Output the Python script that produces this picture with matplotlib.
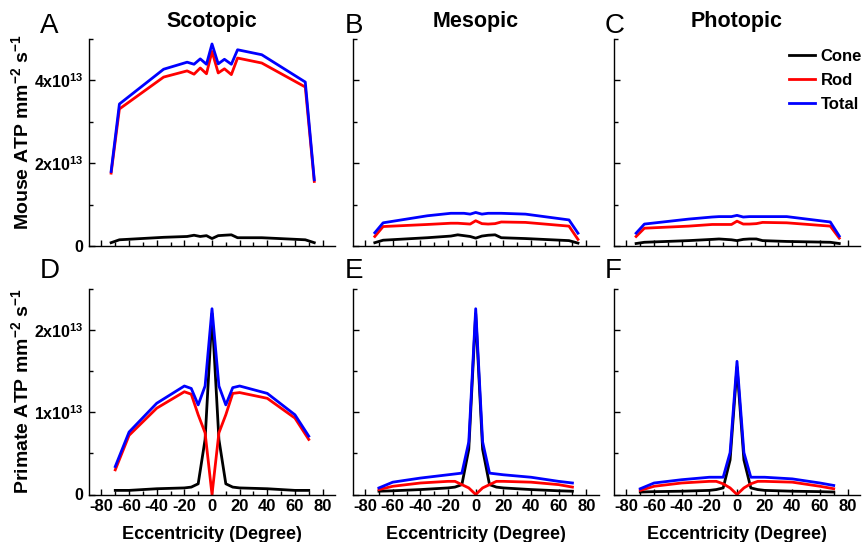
import matplotlib
matplotlib.use("Agg")
import matplotlib.pyplot as plt
from matplotlib.ticker import MultipleLocator, FuncFormatter

plt.rcParams['font.family'] = ['Liberation Sans', 'DejaVu Sans']
plt.rcParams['mathtext.default'] = 'regular'
plt.rcParams['axes.unicode_minus'] = False

# eccentricity (degree)
x_mouse = [-73, -67, -35, -18, -13, -8.5, -4, 0, 4.5, 9, 14, 18.5, 36, 67.5, 74]
x_primate = [-70, -60, -40, -20, -15, -10, -5, 0, 5, 10, 15, 20, 40, 60, 70]

# ATP values in units of 1e13 mm^-2 s^-1
# A - mouse, scotopic
cone_a = [0.08, 0.15, 0.21, 0.23, 0.26, 0.23, 0.25, 0.18, 0.25, 0.26, 0.27, 0.20, 0.20, 0.15, 0.08]
rod_a = [1.76, 3.31, 4.08, 4.23, 4.15, 4.30, 4.16, 4.70, 4.18, 4.28, 4.14, 4.54, 4.42, 3.84, 1.56]
total_a = [1.80, 3.43, 4.27, 4.44, 4.39, 4.52, 4.39, 4.88, 4.40, 4.51, 4.39, 4.74, 4.62, 3.96, 1.60]
# B - mouse, mesopic
cone_b = [0.08, 0.14, 0.20, 0.24, 0.27, 0.25, 0.23, 0.19, 0.24, 0.26, 0.27, 0.20, 0.18, 0.13, 0.07]
rod_b = [0.23, 0.47, 0.52, 0.55, 0.55, 0.54, 0.53, 0.61, 0.54, 0.53, 0.54, 0.58, 0.57, 0.48, 0.16]
total_b = [0.32, 0.56, 0.73, 0.79, 0.79, 0.79, 0.77, 0.81, 0.77, 0.79, 0.79, 0.79, 0.77, 0.63, 0.31]
# C - mouse, photopic
cone_c = [0.06, 0.09, 0.13, 0.16, 0.17, 0.16, 0.15, 0.13, 0.16, 0.17, 0.17, 0.13, 0.11, 0.09, 0.06]
rod_c = [0.23, 0.43, 0.48, 0.52, 0.52, 0.52, 0.52, 0.60, 0.53, 0.53, 0.54, 0.57, 0.56, 0.48, 0.19]
total_c = [0.31, 0.53, 0.65, 0.70, 0.71, 0.71, 0.71, 0.74, 0.70, 0.71, 0.71, 0.71, 0.71, 0.58, 0.24]
# D - primate, scotopic
cone_d = [0.05, 0.05, 0.07, 0.08, 0.09, 0.13, 0.67, 2.20, 0.67, 0.13, 0.09, 0.08, 0.07, 0.05, 0.05]
rod_d = [0.30, 0.72, 1.05, 1.25, 1.22, 0.97, 0.75, 0.0, 0.75, 0.97, 1.23, 1.24, 1.17, 0.93, 0.67]
total_d = [0.34, 0.76, 1.11, 1.32, 1.29, 1.09, 1.32, 2.26, 1.32, 1.09, 1.30, 1.32, 1.23, 0.97, 0.71]
# E - primate, mesopic
cone_e = [0.04, 0.045, 0.06, 0.08, 0.09, 0.12, 0.55, 2.20, 0.55, 0.12, 0.09, 0.08, 0.06, 0.045, 0.04]
rod_e = [0.06, 0.10, 0.14, 0.16, 0.16, 0.12, 0.08, 0.0, 0.08, 0.12, 0.16, 0.16, 0.15, 0.12, 0.09]
total_e = [0.08, 0.15, 0.20, 0.24, 0.25, 0.26, 0.64, 2.26, 0.64, 0.26, 0.25, 0.24, 0.21, 0.16, 0.14]
# F - primate, photopic
cone_f = [0.03, 0.035, 0.04, 0.05, 0.06, 0.08, 0.42, 1.55, 0.42, 0.08, 0.06, 0.05, 0.04, 0.035, 0.03]
rod_f = [0.05, 0.10, 0.14, 0.16, 0.16, 0.13, 0.08, 0.0, 0.08, 0.13, 0.16, 0.16, 0.15, 0.10, 0.07]
total_f = [0.07, 0.14, 0.18, 0.21, 0.21, 0.21, 0.51, 1.62, 0.51, 0.21, 0.21, 0.21, 0.19, 0.14, 0.11]

titles = ["Scotopic", "Mesopic", "Photopic"]
letters = ["A", "B", "C", "D", "E", "F"]

fig = plt.figure(figsize=(8.63, 5.42), dpi=100)
W, H = 863.0, 542.0
lefts = [89, 352.7, 614]
letter_x = [40, 345, 605]
width = 246
rows = [(39, 246), (289, 494.5)]

panels = [
    (x_mouse, cone_a, rod_a, total_a), (x_mouse, cone_b, rod_b, total_b), (x_mouse, cone_c, rod_c, total_c),
    (x_primate, cone_d, rod_d, total_d), (x_primate, cone_e, rod_e, total_e), (x_primate, cone_f, rod_f, total_f),
]

def sci_fmt(v, pos):
    if abs(v) < 1e-9:
        return "0"
    return "%dx10$^{13}$" % round(v)

axes = []
for i, (xs, cone, rod, total) in enumerate(panels):
    r, c = divmod(i, 3)
    top, bot = rows[r]
    ax = fig.add_axes([lefts[c] / W, 1 - bot / H, width / W, (bot - top) / H])
    axes.append(ax)
    ax.plot(xs, cone, color='black', lw=2, label='Cone')
    ax.plot(xs, rod, color='#ff0000', lw=2, label='Rod')
    ax.plot(xs, total, color='#0000ff', lw=2, label='Total')

    ax.set_xlim(-89, 89)
    ax.xaxis.set_major_locator(MultipleLocator(20))
    ax.xaxis.set_minor_locator(MultipleLocator(10))
    if r == 0:
        ax.set_ylim(0, 5)
        ax.yaxis.set_major_locator(MultipleLocator(2))
        ax.yaxis.set_minor_locator(MultipleLocator(1))
    else:
        ax.set_ylim(0, 2.5)
        ax.yaxis.set_major_locator(MultipleLocator(1))
        ax.yaxis.set_minor_locator(MultipleLocator(0.5))
    ax.yaxis.set_major_formatter(FuncFormatter(sci_fmt))

    ax.spines['top'].set_visible(False)
    ax.spines['right'].set_visible(False)
    for s in ['left', 'bottom']:
        ax.spines[s].set_linewidth(1.0)
    ax.tick_params(which='both', direction='in', width=1.0)
    ax.tick_params(which='major', length=4)
    ax.tick_params(which='minor', length=3)
    ax.tick_params(axis='y', which='major', labelsize=11.5, pad=4)
    ax.tick_params(axis='x', which='major', labelsize=12, pad=3)
    for lab in ax.get_xticklabels() + ax.get_yticklabels():
        lab.set_fontweight('bold')

    if r == 0:
        ax.tick_params(axis='x', labelbottom=False)
        ax.set_title(titles[c], fontsize=15.5, fontweight='bold', pad=9)
    else:
        ax.set_xlabel("Eccentricity (Degree)", fontsize=13, fontweight='bold', labelpad=9)
    if c > 0:
        ax.tick_params(axis='y', labelleft=False)

    fig.text(letter_x[c] / W, 1 - (33 if r == 0 else 278) / H, letters[i],
             fontsize=20, ha='left', va='baseline')

fig.text(21 / W, 1 - 132 / H, "Mouse ATP mm$^{-2}$ s$^{-1}$", rotation=90,
         fontsize=14, fontweight='bold', ha='center', va='center')
fig.text(21 / W, 1 - 391 / H, "Primate ATP mm$^{-2}$ s$^{-1}$", rotation=90,
         fontsize=14, fontweight='bold', ha='center', va='center')

leg = axes[2].legend(loc='upper right', bbox_to_anchor=(862 / W, 1 - 49 / H),
                     bbox_transform=fig.transFigure, frameon=False,
                     prop={'weight': 'bold', 'size': 12},
                     handlelength=1.55, handletextpad=0.35, labelspacing=0.55,
                     borderaxespad=0, borderpad=0)

plt.savefig("out.png", dpi=100)
